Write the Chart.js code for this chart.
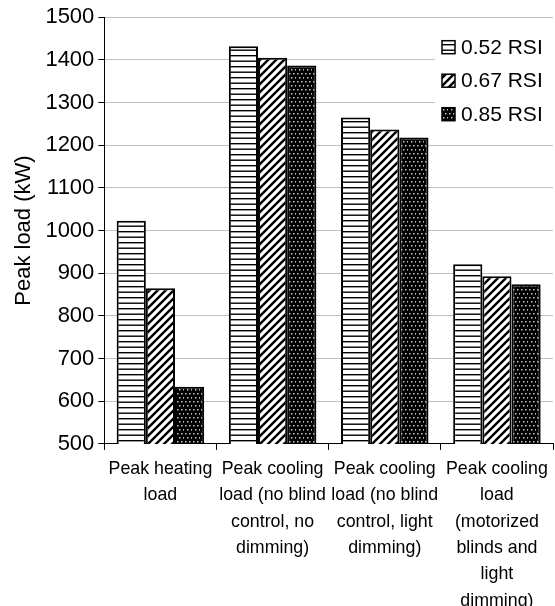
<!DOCTYPE html>
<html>
<head>
<meta charset="utf-8">
<script src="https://cdn.jsdelivr.net/npm/chart.js@4.4.1/dist/chart.umd.min.js"></script>
<style>
  html, body { margin: 0; padding: 0; background: #fff; overflow: hidden; }
  #wrap { width: 555px; height: 620px; position: relative; }
</style>
</head>
<body>
<div id="wrap"><canvas id="loadChart"></canvas></div>
<script>
// values (kW)
const categories = [
    ['Peak heating', 'load'],
    ['Peak cooling', 'load (no blind', 'control, no', 'dimming)'],
    ['Peak cooling', 'load (no blind', 'control, light', 'dimming)'],
    ['Peak cooling', 'load', '(motorized', 'blinds and', 'light', 'dimming)']
];
const seriesNames = ['0.52 RSI', '0.67 RSI', '0.85 RSI'];
const rsi052 = [1023, 1432, 1265, 921];
const rsi067 = [865, 1405, 1237, 893];
const rsi085 = [634, 1387, 1218, 874];
const yTicks = [500, 600, 700, 800, 900, 1000, 1100, 1200, 1300, 1400, 1500];

const FONT = "'Liberation Sans', Arial, sans-serif";

function makePattern(kind) {
    const c = document.createElement('canvas');
    const ctx = c.getContext('2d');
    if (kind === 'hlines') {
        c.width = 8; c.height = 11;
        ctx.fillStyle = '#fff';
        ctx.fillRect(0, 0, 8, 11);
        ctx.fillStyle = '#000';
        ctx.fillRect(0, 0, 8, 1.4);
        ctx.fillRect(0, 5.5, 8, 1.4);
    } else if (kind === 'diag') {
        c.width = 8; c.height = 8;
        ctx.fillStyle = '#fff';
        ctx.fillRect(0, 0, 8, 8);
        ctx.strokeStyle = '#000';
        ctx.lineWidth = 2.4;
        ctx.beginPath();
        ctx.moveTo(-2, 10); ctx.lineTo(10, -2);
        ctx.moveTo(-6, 6); ctx.lineTo(6, -6);
        ctx.moveTo(2, 14); ctx.lineTo(14, 2);
        ctx.stroke();
    } else {
        c.width = 8; c.height = 8;
        ctx.fillStyle = '#000';
        ctx.fillRect(0, 0, 8, 8);
        ctx.fillStyle = '#c8c8c8';
        ctx.fillRect(1, 1, 1.5, 1.5);
        ctx.fillRect(5, 1, 1.5, 1.5);
        ctx.fillRect(3, 5, 1.5, 1.5);
        ctx.fillRect(7, 5, 1.5, 1.5);
    }
    return ctx.createPattern(c, 'repeat');
}

const legendInPlot = {
    id: 'legendInPlot',
    afterDatasetsDraw(chart) {
        const ctx = chart.ctx;
        const area = chart.chartArea;
        const x0 = area.right - 118;
        const y0 = area.top + 9;
        ctx.save();
        ctx.fillStyle = '#fff';
        ctx.fillRect(x0, y0, 120, 104);
        ctx.font = '21px ' + FONT;
        ctx.textBaseline = 'middle';
        chart.data.datasets.forEach(function(ds, i) {
            const cy = y0 + 21 + i * 33.5;
            ctx.fillStyle = ds.backgroundColor;
            ctx.fillRect(x0 + 7, cy - 6.5, 13, 13);
            ctx.strokeStyle = '#000';
            ctx.lineWidth = 1.5;
            ctx.strokeRect(x0 + 7, cy - 6.5, 13, 13);
            ctx.fillStyle = '#000';
            ctx.fillText(ds.label, x0 + 26, cy + 1);
        });
        ctx.restore();
    }
};

document.addEventListener('DOMContentLoaded', function() {
    const patterns = [makePattern('hlines'), makePattern('diag'), makePattern('dots')];
    const values = [rsi052, rsi067, rsi085];

    const ctx = document.getElementById('loadChart').getContext('2d');
    new Chart(ctx, {
        type: 'bar',
        data: {
            labels: categories,
            datasets: seriesNames.map(function(name, i) {
                return {
                    label: name,
                    data: values[i],
                    backgroundColor: patterns[i],
                    borderColor: '#000',
                    borderWidth: 2,
                    categoryPercentage: 0.78,
                    barPercentage: 1.0
                };
            })
        },
        options: {
            responsive: true,
            maintainAspectRatio: false,
            animation: false,
            layout: { padding: { top: 5, left: 11, right: 2, bottom: 0 } },
            plugins: {
                legend: { display: false },
                tooltip: { enabled: false }
            },
            scales: {
                x: {
                    afterFit: function(axis) {
                        // labels fit inside their categories, no side padding needed
                        axis.paddingLeft = 0;
                        axis.paddingRight = 0;
                    },
                    grid: {
                        offset: true,
                        drawOnChartArea: false,
                        tickColor: '#000',
                        tickLength: 6
                    },
                    border: { color: '#000', width: 1 },
                    ticks: {
                        color: '#000',
                        font: { family: FONT, size: 17.8, lineHeight: 1.48 },
                        maxRotation: 0,
                        autoSkip: false,
                        padding: 6
                    }
                },
                y: {
                    min: yTicks[0],
                    max: yTicks[yTicks.length - 1],
                    afterBuildTicks: function(axis) {
                        axis.ticks = yTicks.map(function(v) { return { value: v }; });
                    },
                    grid: {
                        color: '#c0c0c0',
                        tickColor: '#000',
                        tickLength: 6
                    },
                    border: { color: '#000', width: 1 },
                    ticks: {
                        color: '#000',
                        font: { family: FONT, size: 22 },
                        padding: 4,
                        callback: function(v) { return String(v); }
                    },
                    title: {
                        display: true,
                        text: 'Peak load (kW)',
                        color: '#000',
                        font: { family: FONT, size: 22 },
                        padding: { top: 0, bottom: 4 }
                    }
                }
            }
        },
        plugins: [legendInPlot]
    });
});
</script>
</body>
</html>
